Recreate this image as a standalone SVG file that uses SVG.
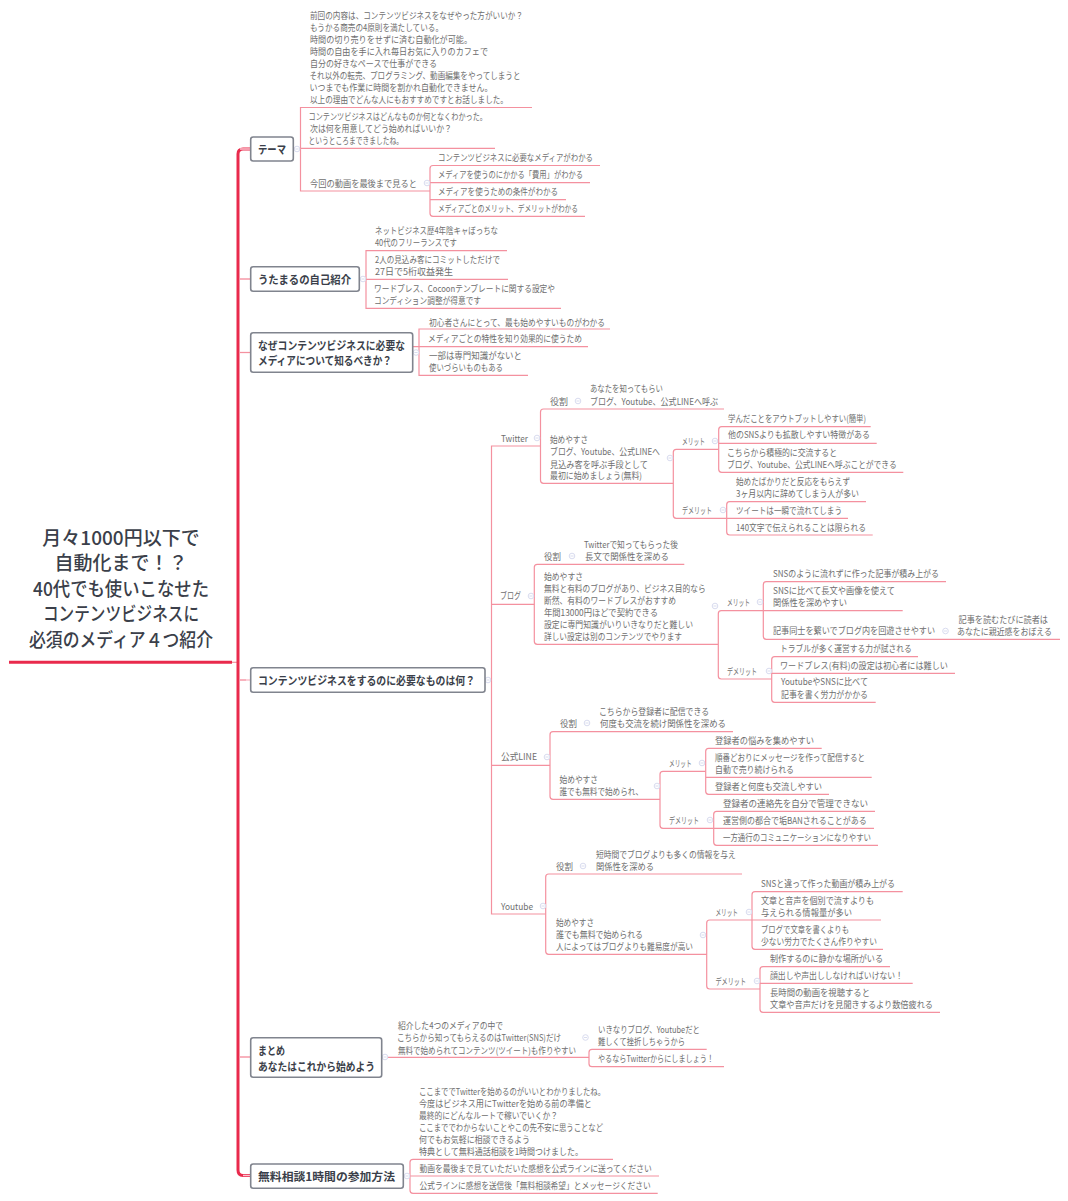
<svg xmlns="http://www.w3.org/2000/svg" width="1068" height="1201" viewBox="0 0 1068 1201">
<style>
text{font-family:"Noto Sans CJK JP","Noto Sans",sans-serif}
.t{font-size:9px;fill:#6e6e6e;transform:translateY(.6px)}
.b{font-size:11.500px;font-weight:700;fill:#3b3f4a;transform:translateY(.5px)}
.r{font-size:19px;font-weight:500;fill:#3b3f4a;text-anchor:middle;transform:translateY(1px)}
.n{fill:#fff;stroke:#80848e;stroke-width:1.6}
.l{fill:none;stroke:#f4919f;stroke-width:1.2}
.p{fill:none;stroke:#fbc4ce;stroke-width:1.4}
.k{fill:none;stroke:#e92a4c;stroke-width:3}
.m{fill:#fff;stroke:#d9dcef;stroke-width:1}
</style>
<defs><g id="m"><circle class="m" r="2.800"/><path class="m" d="M-1.600 0H1.600"/></g></defs>
<g id="connectors">
<path class="k" d="M9 662.300H232"/>
<path class="l" d="M232 662.300H238"/>
<path class="k" d="M250 149H243Q238 149 238 154V1170Q238 1175.500 243 1175.500H250"/>
<path class="p" d="M240 149H250M240 279H250M240 352.500H250M240 680H250M240 1057H250M243 1175.500H250"/>
<path class="l" d="M240 279H250M240 352.500H250M240 680H246M240 1057H250"/>
<path class="l" d="M532 107.500H300.500V191H430M293 148.300H495"/>
<path class="l" d="M600 165.500H433Q430 165.500 430 168.500V213.300Q430 216.300 433 216.300H585M430 182.700H590M430 199.700H566"/>
<path class="l" d="M507 250.700H366V308.300H561M359.500 279.300H508"/>
<path class="l" d="M610 329H419V375.300H528M413 346.700H419M419 346.700H588"/>
<path class="l" d="M485 680H491.500M540 446H491.500V914H545.700M491.500 604.300H534.300M491.500 765.300H550"/>
<path class="l" d="M724 409H543.500Q540.500 409 540.500 412V480.300Q540.500 483.300 543.500 483.300H673.300M718.700 449.300H676.300Q673.300 449.300 673.300 452.300V515.300Q673.300 518.300 676.300 518.300H726.700"/>
<path class="l" d="M870.700 426.700H721.700Q718.700 426.700 718.700 429.700V469.300Q718.700 472.300 721.700 472.300H903.300M718.700 443.300H876.700"/>
<path class="l" d="M866 501.700H729.700Q726.700 501.700 726.700 504.700V532Q726.700 535 729.700 535H872.700M726.700 518.300H848"/>
<path class="l" d="M684.300 564.300H537.300Q534.300 564.300 534.300 567.300V641.300Q534.300 644.300 537.300 644.300H718.300M763.300 610.700H721.300Q718.300 610.700 718.300 613.700V676Q718.300 679 721.300 679H771.700"/>
<path class="l" d="M946 581.700H766.300Q763.300 581.700 763.300 584.700V636.300Q763.300 639.300 766.300 639.300H1060M763.300 610.700H902.700"/>
<path class="l" d="M918 656.700H774.700Q771.700 656.700 771.700 659.700V699.300Q771.700 702.300 774.700 702.300H875.700M771.700 673.300H955"/>
<path class="l" d="M733 731.700H553Q550 731.700 550 734.700V796.300Q550 799.300 553 799.300H660M705.700 771.300H663Q660 771.300 660 774.300V825.300Q660 828.300 663 828.300H713.700"/>
<path class="l" d="M821.700 748.300H708.700Q705.700 748.300 705.700 751.300V791.300Q705.700 794.300 708.700 794.300H829M705.700 777.300H871.700"/>
<path class="l" d="M875 811.300H716.700Q713.700 811.300 713.700 814.300V842.300Q713.700 845.300 716.700 845.300H878M713.700 828.300H874"/>
<path class="l" d="M742 874H548.700Q545.700 874 545.700 877V951.300Q545.700 954.300 548.700 954.300H706.700M752 920H709.700Q706.700 920 706.700 923V986Q706.700 989 709.700 989H760"/>
<path class="l" d="M902.700 891.700H755Q752 891.700 752 894.700V946.300Q752 949.300 755 949.300H883M752 920H881"/>
<path class="l" d="M890 966.700H763Q760 966.700 760 969.700V1009.300Q760 1012.300 763 1012.300H940M760 983.300H912.700"/>
<path class="l" d="M381.700 1057.300H589M706.700 1049.300H592Q589 1049.300 589 1052.300V1063.700Q589 1066.700 592 1066.700H724"/>
<path class="l" d="M403.500 1176H659M613 1159.300H413Q410 1159.300 410 1162.300V1190.300Q410 1193.300 413 1193.300H657.700"/>
</g>
<g id="markers">
<use href="#m" x="297" y="149"/><use href="#m" x="427" y="183"/><use href="#m" x="363" y="279"/><use href="#m" x="416" y="352.500"/><use href="#m" x="488" y="680"/>
<use href="#m" x="537" y="438"/><use href="#m" x="578" y="401"/><use href="#m" x="670" y="458"/><use href="#m" x="715" y="441"/><use href="#m" x="723" y="510"/>
<use href="#m" x="531" y="596"/><use href="#m" x="572" y="556"/><use href="#m" x="715" y="606"/><use href="#m" x="760" y="602"/><use href="#m" x="769" y="671"/><use href="#m" x="945.500" y="631"/>
<use href="#m" x="547" y="757"/><use href="#m" x="587" y="723"/><use href="#m" x="657" y="786"/><use href="#m" x="702" y="763"/><use href="#m" x="710" y="820"/>
<use href="#m" x="543" y="906"/><use href="#m" x="583" y="866"/><use href="#m" x="703" y="935"/><use href="#m" x="749" y="912"/><use href="#m" x="757" y="981"/>
<use href="#m" x="385" y="1057"/><use href="#m" x="585.500" y="1037.500"/><use href="#m" x="407" y="1176"/>
</g>
<g id="root">
<text class="r" x="121" y="544">月々1000円以下で</text>
<text class="r" x="121" y="569">自動化まで！？</text>
<text class="r" x="121" y="595" textLength="176" lengthAdjust="spacingAndGlyphs">40代でも使いこなせた</text>
<text class="r" x="121" y="620" textLength="156" lengthAdjust="spacingAndGlyphs">コンテンツビジネスに</text>
<text class="r" x="121" y="646" textLength="184" lengthAdjust="spacingAndGlyphs">必須のメディア４つ紹介</text>
</g>
<g id="node-theme"><rect class="n" x="250.700" y="137" width="42.600" height="24" rx="2.500"/><text class="b" x="258" y="153" textLength="28" lengthAdjust="spacingAndGlyphs">テーマ</text></g>
<g id="node-theme-1">
<text class="t" x="310" y="18" textLength="213" lengthAdjust="spacingAndGlyphs">前回の内容は、コンテンツビジネスをなぜやった方がいいか？</text>
<text class="t" x="310" y="30" textLength="133" lengthAdjust="spacingAndGlyphs">もうかる商売の4原則を満たしている。</text>
<text class="t" x="310" y="42.500" textLength="162" lengthAdjust="spacingAndGlyphs">時間の切り売りをせずに済む自動化が可能。</text>
<text class="t" x="310" y="54.500" textLength="178" lengthAdjust="spacingAndGlyphs">時間の自由を手に入れ毎日お気に入りのカフェで</text>
<text class="t" x="310" y="66" textLength="127" lengthAdjust="spacingAndGlyphs">自分の好きなペースで仕事ができる</text>
<text class="t" x="309.500" y="78.500" textLength="211" lengthAdjust="spacingAndGlyphs">それ以外の転売、プログラミング、動画編集をやってしまうと</text>
<text class="t" x="309.500" y="90.500" textLength="183" lengthAdjust="spacingAndGlyphs">いつまでも作業に時間を割かれ自動化できません。</text>
<text class="t" x="310" y="102" textLength="198" lengthAdjust="spacingAndGlyphs">以上の理由でどんな人にもおすすめですとお話しました。</text>
</g>
<g id="node-theme-2">
<text class="t" x="308.500" y="119" textLength="178.500" lengthAdjust="spacingAndGlyphs">コンテンツビジネスはどんなものか何となくわかった。</text>
<text class="t" x="310" y="131" textLength="142" lengthAdjust="spacingAndGlyphs">次は何を用意してどう始めればいいか？</text>
<text class="t" x="308.500" y="143" textLength="94.500" lengthAdjust="spacingAndGlyphs">というところまできましたね。</text>
</g>
<g id="node-theme-3"><text class="t" x="310" y="186" textLength="107" lengthAdjust="spacingAndGlyphs">今回の動画を最後まで見ると</text></g>
<g id="node-theme-3a"><text class="t" x="438" y="160" textLength="155" lengthAdjust="spacingAndGlyphs">コンテンツビジネスに必要なメディアがわかる</text></g>
<g id="node-theme-3b"><text class="t" x="438" y="177" textLength="145" lengthAdjust="spacingAndGlyphs">メディアを使うのにかかる「費用」がわかる</text></g>
<g id="node-theme-3c"><text class="t" x="438" y="194" textLength="120" lengthAdjust="spacingAndGlyphs">メディアを使うための条件がわかる</text></g>
<g id="node-theme-3d"><text class="t" x="438" y="211" textLength="140" lengthAdjust="spacingAndGlyphs">メディアごとのメリット、デメリットがわかる</text></g>

<g id="node-intro"><rect class="n" x="250.700" y="266.700" width="108.600" height="24.600" rx="2.500"/><text class="b" x="258" y="283.300" textLength="93" lengthAdjust="spacingAndGlyphs">うたまるの自己紹介</text></g>
<g id="node-intro-1"><text class="t" x="375" y="233" textLength="123" lengthAdjust="spacingAndGlyphs">ネットビジネス歴4年陰キャぼっちな</text><text class="t" x="375" y="245" textLength="82" lengthAdjust="spacingAndGlyphs">40代のフリーランスです</text></g>
<g id="node-intro-2"><text class="t" x="375" y="262" textLength="125" lengthAdjust="spacingAndGlyphs">2人の見込み客にコミットしただけで</text><text class="t" x="375" y="274" textLength="78" lengthAdjust="spacingAndGlyphs">27日で5桁収益発生</text></g>
<g id="node-intro-3"><text class="t" x="374" y="291" textLength="181" lengthAdjust="spacingAndGlyphs">ワードプレス、Cocoonテンプレートに関する設定や</text><text class="t" x="374" y="303" textLength="107" lengthAdjust="spacingAndGlyphs">コンディション調整が得意です</text></g>

<g id="node-why"><rect class="n" x="250.700" y="332.700" width="162" height="39.600" rx="2.500"/><text class="b" x="258" y="349" textLength="147" lengthAdjust="spacingAndGlyphs">なぜコンテンツビジネスに必要な</text><text class="b" x="258" y="364.500" textLength="134" lengthAdjust="spacingAndGlyphs">メディアについて知るべきか？</text></g>
<g id="node-why-1"><text class="t" x="429" y="325" textLength="176" lengthAdjust="spacingAndGlyphs">初心者さんにとって、最も始めやすいものがわかる</text></g>
<g id="node-why-2"><text class="t" x="428" y="341.700" textLength="154" lengthAdjust="spacingAndGlyphs">メディアごとの特性を知り効果的に使うため</text></g>
<g id="node-why-3"><text class="t" x="429" y="358.500" textLength="93" lengthAdjust="spacingAndGlyphs">一部は専門知識がないと</text><text class="t" x="429" y="370.500" textLength="74" lengthAdjust="spacingAndGlyphs">使いづらいものもある</text></g>

<g id="node-need"><rect class="n" x="250.700" y="667.700" width="234.300" height="24.600" rx="2.500"/><text class="b" x="258" y="684.300" textLength="217" lengthAdjust="spacingAndGlyphs">コンテンツビジネスをするのに必要なものは何？</text></g>

<g id="node-twitter"><text class="t" x="501" y="441" textLength="27" lengthAdjust="spacingAndGlyphs">Twitter</text></g>
<g id="node-tw-role"><text class="t" x="550" y="404" textLength="18" lengthAdjust="spacingAndGlyphs">役割</text></g>
<g id="node-tw-role-1"><text class="t" x="590" y="391.500" textLength="73" lengthAdjust="spacingAndGlyphs">あなたを知ってもらい</text><text class="t" x="590" y="404" textLength="128" lengthAdjust="spacingAndGlyphs">ブログ、Youtube、公式LINEへ呼ぶ</text></g>
<g id="node-tw-start"><text class="t" x="550" y="442.300" textLength="38" lengthAdjust="spacingAndGlyphs">始めやすさ</text><text class="t" x="550" y="454.500" textLength="110" lengthAdjust="spacingAndGlyphs">ブログ、Youtube、公式LINEへ</text><text class="t" x="550" y="467" textLength="98" lengthAdjust="spacingAndGlyphs">見込み客を呼ぶ手段として</text><text class="t" x="550" y="478.500" textLength="92" lengthAdjust="spacingAndGlyphs">最初に始めましょう(無料)</text></g>
<g id="node-tw-merit"><text class="t" x="682" y="444" textLength="23" lengthAdjust="spacingAndGlyphs">メリット</text></g>
<g id="node-tw-demerit"><text class="t" x="682" y="513" textLength="30" lengthAdjust="spacingAndGlyphs">デメリット</text></g>
<g id="node-tw-m1"><text class="t" x="728" y="421" textLength="138" lengthAdjust="spacingAndGlyphs">学んだことをアウトプットしやすい(簡単)</text></g>
<g id="node-tw-m2"><text class="t" x="728" y="437.700" textLength="142" lengthAdjust="spacingAndGlyphs">他のSNSよりも拡散しやすい特徴がある</text></g>
<g id="node-tw-m3"><text class="t" x="727" y="455" textLength="110" lengthAdjust="spacingAndGlyphs">こちらから積極的に交流すると</text><text class="t" x="727" y="467" textLength="169.700" lengthAdjust="spacingAndGlyphs">ブログ、Youtube、公式LINEへ呼ぶことができる</text></g>
<g id="node-tw-d1"><text class="t" x="736" y="484" textLength="114" lengthAdjust="spacingAndGlyphs">始めたばかりだと反応をもらえず</text><text class="t" x="736" y="496" textLength="123" lengthAdjust="spacingAndGlyphs">3ヶ月以内に辞めてしまう人が多い</text></g>
<g id="node-tw-d2"><text class="t" x="736" y="513" textLength="106" lengthAdjust="spacingAndGlyphs">ツイートは一瞬で流れてしまう</text></g>
<g id="node-tw-d3"><text class="t" x="736" y="530" textLength="130" lengthAdjust="spacingAndGlyphs">140文字で伝えられることは限られる</text></g>

<g id="node-blog"><text class="t" x="500" y="598.700" textLength="21" lengthAdjust="spacingAndGlyphs">ブログ</text></g>
<g id="node-bl-role"><text class="t" x="544" y="559" textLength="17" lengthAdjust="spacingAndGlyphs">役割</text></g>
<g id="node-bl-role-1"><text class="t" x="584" y="547" textLength="94" lengthAdjust="spacingAndGlyphs">Twitterで知ってもらった後</text><text class="t" x="585" y="559" textLength="84" lengthAdjust="spacingAndGlyphs">長文で関係性を深める</text></g>
<g id="node-bl-start">
<text class="t" x="544" y="579" textLength="39" lengthAdjust="spacingAndGlyphs">始めやすさ</text>
<text class="t" x="544" y="591.300" textLength="161.700" lengthAdjust="spacingAndGlyphs">無料と有料のブログがあり、ビジネス目的なら</text>
<text class="t" x="544" y="603" textLength="132" lengthAdjust="spacingAndGlyphs">断然、有料のワードプレスがおすすめ</text>
<text class="t" x="544" y="615" textLength="114" lengthAdjust="spacingAndGlyphs">年間13000円ほどで契約できる</text>
<text class="t" x="544" y="627.500" textLength="149" lengthAdjust="spacingAndGlyphs">設定に専門知識がいりいきなりだと難しい</text>
<text class="t" x="544" y="639.700" textLength="138" lengthAdjust="spacingAndGlyphs">詳しい設定は別のコンテンツでやります</text>
</g>
<g id="node-bl-merit"><text class="t" x="727" y="605" textLength="23" lengthAdjust="spacingAndGlyphs">メリット</text></g>
<g id="node-bl-demerit"><text class="t" x="727" y="674" textLength="30" lengthAdjust="spacingAndGlyphs">デメリット</text></g>
<g id="node-bl-m1"><text class="t" x="773" y="576" textLength="166" lengthAdjust="spacingAndGlyphs">SNSのように流れずに作った記事が積み上がる</text></g>
<g id="node-bl-m2"><text class="t" x="773" y="593" textLength="122" lengthAdjust="spacingAndGlyphs">SNSに比べて長文や画像を使えて</text><text class="t" x="773" y="605" textLength="74" lengthAdjust="spacingAndGlyphs">関係性を深めやすい</text></g>
<g id="node-bl-m3"><text class="t" x="773" y="633.500" textLength="162" lengthAdjust="spacingAndGlyphs">記事同士を繋いでブログ内を回遊させやすい</text></g>
<g id="node-bl-m3a"><text class="t" x="958.500" y="622" textLength="89.500" lengthAdjust="spacingAndGlyphs">記事を読むたびに読者は</text><text class="t" x="957" y="634" textLength="95" lengthAdjust="spacingAndGlyphs">あなたに親近感をおぼえる</text></g>
<g id="node-bl-d1"><text class="t" x="780" y="651" textLength="131.700" lengthAdjust="spacingAndGlyphs">トラブルが多く運営する力が試される</text></g>
<g id="node-bl-d2"><text class="t" x="780" y="668" textLength="168" lengthAdjust="spacingAndGlyphs">ワードプレス(有料)の設定は初心者には難しい</text></g>
<g id="node-bl-d3"><text class="t" x="781" y="684.500" textLength="87" lengthAdjust="spacingAndGlyphs">YoutubeやSNSに比べて</text><text class="t" x="781" y="697" textLength="87" lengthAdjust="spacingAndGlyphs">記事を書く労力がかかる</text></g>

<g id="node-line"><text class="t" x="501" y="759.700" textLength="36" lengthAdjust="spacingAndGlyphs">公式LINE</text></g>
<g id="node-li-role"><text class="t" x="560" y="726" textLength="17" lengthAdjust="spacingAndGlyphs">役割</text></g>
<g id="node-li-role-1"><text class="t" x="599" y="714" textLength="110" lengthAdjust="spacingAndGlyphs">こちらから登録者に配信できる</text><text class="t" x="600" y="726" textLength="126" lengthAdjust="spacingAndGlyphs">何度も交流を続け関係性を深める</text></g>
<g id="node-li-start"><text class="t" x="559.500" y="782" textLength="38.500" lengthAdjust="spacingAndGlyphs">始めやすさ</text><text class="t" x="559.500" y="794" textLength="83.500" lengthAdjust="spacingAndGlyphs">誰でも無料で始められ、</text></g>
<g id="node-li-merit"><text class="t" x="669" y="766" textLength="22.700" lengthAdjust="spacingAndGlyphs">メリット</text></g>
<g id="node-li-demerit"><text class="t" x="669" y="823" textLength="30" lengthAdjust="spacingAndGlyphs">デメリット</text></g>
<g id="node-li-m1"><text class="t" x="715" y="743" textLength="99" lengthAdjust="spacingAndGlyphs">登録者の悩みを集めやすい</text></g>
<g id="node-li-m2"><text class="t" x="715" y="760" textLength="150" lengthAdjust="spacingAndGlyphs">順番どおりにメッセージを作って配信すると</text><text class="t" x="715" y="772" textLength="79" lengthAdjust="spacingAndGlyphs">自動で売り続けられる</text></g>
<g id="node-li-m3"><text class="t" x="715" y="789" textLength="107" lengthAdjust="spacingAndGlyphs">登録者と何度も交流しやすい</text></g>
<g id="node-li-d1"><text class="t" x="723" y="806" textLength="145" lengthAdjust="spacingAndGlyphs">登録者の連絡先を自分で管理できない</text></g>
<g id="node-li-d2"><text class="t" x="723" y="823" textLength="143.700" lengthAdjust="spacingAndGlyphs">運営側の都合で垢BANされることがある</text></g>
<g id="node-li-d3"><text class="t" x="723" y="840" textLength="148" lengthAdjust="spacingAndGlyphs">一方通行のコミュニケーションになりやすい</text></g>

<g id="node-youtube"><text class="t" x="501" y="909" textLength="32" lengthAdjust="spacingAndGlyphs">Youtube</text></g>
<g id="node-yt-role"><text class="t" x="556" y="869" textLength="17" lengthAdjust="spacingAndGlyphs">役割</text></g>
<g id="node-yt-role-1"><text class="t" x="596" y="857" textLength="139.700" lengthAdjust="spacingAndGlyphs">短時間でブログよりも多くの情報を与え</text><text class="t" x="596" y="869" textLength="58" lengthAdjust="spacingAndGlyphs">関係性を深める</text></g>
<g id="node-yt-start"><text class="t" x="556" y="925" textLength="38" lengthAdjust="spacingAndGlyphs">始めやすさ</text><text class="t" x="556" y="937.500" textLength="87" lengthAdjust="spacingAndGlyphs">誰でも無料で始められる</text><text class="t" x="556" y="949.500" textLength="137" lengthAdjust="spacingAndGlyphs">人によってはブログよりも難易度が高い</text></g>
<g id="node-yt-merit"><text class="t" x="715.500" y="915" textLength="22.500" lengthAdjust="spacingAndGlyphs">メリット</text></g>
<g id="node-yt-demerit"><text class="t" x="715.500" y="984" textLength="30.500" lengthAdjust="spacingAndGlyphs">デメリット</text></g>
<g id="node-yt-m1"><text class="t" x="761" y="886" textLength="134" lengthAdjust="spacingAndGlyphs">SNSと違って作った動画が積み上がる</text></g>
<g id="node-yt-m2"><text class="t" x="761" y="903" textLength="113" lengthAdjust="spacingAndGlyphs">文章と音声を個別で流すよりも</text><text class="t" x="761" y="915" textLength="91" lengthAdjust="spacingAndGlyphs">与えられる情報量が多い</text></g>
<g id="node-yt-m3"><text class="t" x="761" y="932" textLength="88" lengthAdjust="spacingAndGlyphs">ブログで文章を書くよりも</text><text class="t" x="761" y="944" textLength="116" lengthAdjust="spacingAndGlyphs">少ない労力でたくさん作りやすい</text></g>
<g id="node-yt-d1"><text class="t" x="770" y="961" textLength="113" lengthAdjust="spacingAndGlyphs">制作するのに静かな場所がいる</text></g>
<g id="node-yt-d2"><text class="t" x="770" y="978" textLength="133" lengthAdjust="spacingAndGlyphs">顔出しや声出ししなければいけない！</text></g>
<g id="node-yt-d3"><text class="t" x="770" y="995" textLength="100" lengthAdjust="spacingAndGlyphs">長時間の動画を視聴すると</text><text class="t" x="770" y="1007" textLength="163" lengthAdjust="spacingAndGlyphs">文章や音声だけを見聞きするより数倍疲れる</text></g>

<g id="node-summary"><rect class="n" x="250.700" y="1037.700" width="131" height="39.600" rx="2.500"/><text class="b" x="258" y="1054" textLength="27" lengthAdjust="spacingAndGlyphs">まとめ</text><text class="b" x="258" y="1070" textLength="117" lengthAdjust="spacingAndGlyphs">あなたはこれから始めよう</text></g>
<g id="node-summary-1"><text class="t" x="398" y="1028" textLength="105" lengthAdjust="spacingAndGlyphs">紹介した4つのメディアの中で</text><text class="t" x="397" y="1040" textLength="164" lengthAdjust="spacingAndGlyphs">こちらから知ってもらえるのはTwitter(SNS)だけ</text><text class="t" x="398" y="1053" textLength="178" lengthAdjust="spacingAndGlyphs">無料で始められてコンテンツ(ツイート)も作りやすい</text></g>
<g id="node-summary-1a"><text class="t" x="598" y="1032" textLength="102" lengthAdjust="spacingAndGlyphs">いきなりブログ、Youtubeだと</text><text class="t" x="598" y="1044" textLength="87" lengthAdjust="spacingAndGlyphs">難しくて挫折しちゃうから</text></g>
<g id="node-summary-1b"><text class="t" x="598" y="1061" textLength="116" lengthAdjust="spacingAndGlyphs">やるならTwitterからにしましょう！</text></g>

<g id="node-consult"><rect class="n" x="250.700" y="1164" width="152.600" height="24.300" rx="2.500"/><text class="b" x="258" y="1180.500" textLength="137" lengthAdjust="spacingAndGlyphs">無料相談1時間の参加方法</text></g>
<g id="node-consult-1">
<text class="t" x="419" y="1094" textLength="186" lengthAdjust="spacingAndGlyphs">ここまででTwitterを始めるのがいいとわかりましたね。</text>
<text class="t" x="419" y="1106" textLength="173" lengthAdjust="spacingAndGlyphs">今度はビジネス用にTwitterを始める前の準備と</text>
<text class="t" x="419" y="1118" textLength="139" lengthAdjust="spacingAndGlyphs">最終的にどんなルートで稼いでいくか？</text>
<text class="t" x="419" y="1130.500" textLength="184" lengthAdjust="spacingAndGlyphs">ここまででわからないことやこの先不安に思うことなど</text>
<text class="t" x="419" y="1142" textLength="111" lengthAdjust="spacingAndGlyphs">何でもお気軽に相談できるよう</text>
<text class="t" x="419" y="1154.500" textLength="164" lengthAdjust="spacingAndGlyphs">特典として無料通話相談を1時間つけました。</text>
</g>
<g id="node-consult-2"><text class="t" x="419.500" y="1171" textLength="232.200" lengthAdjust="spacingAndGlyphs">動画を最後まで見ていただいた感想を公式ラインに送ってください</text></g>
<g id="node-consult-3"><text class="t" x="419.500" y="1188" textLength="231.200" lengthAdjust="spacingAndGlyphs">公式ラインに感想を送信後「無料相談希望」とメッセージください</text></g>
</svg>
